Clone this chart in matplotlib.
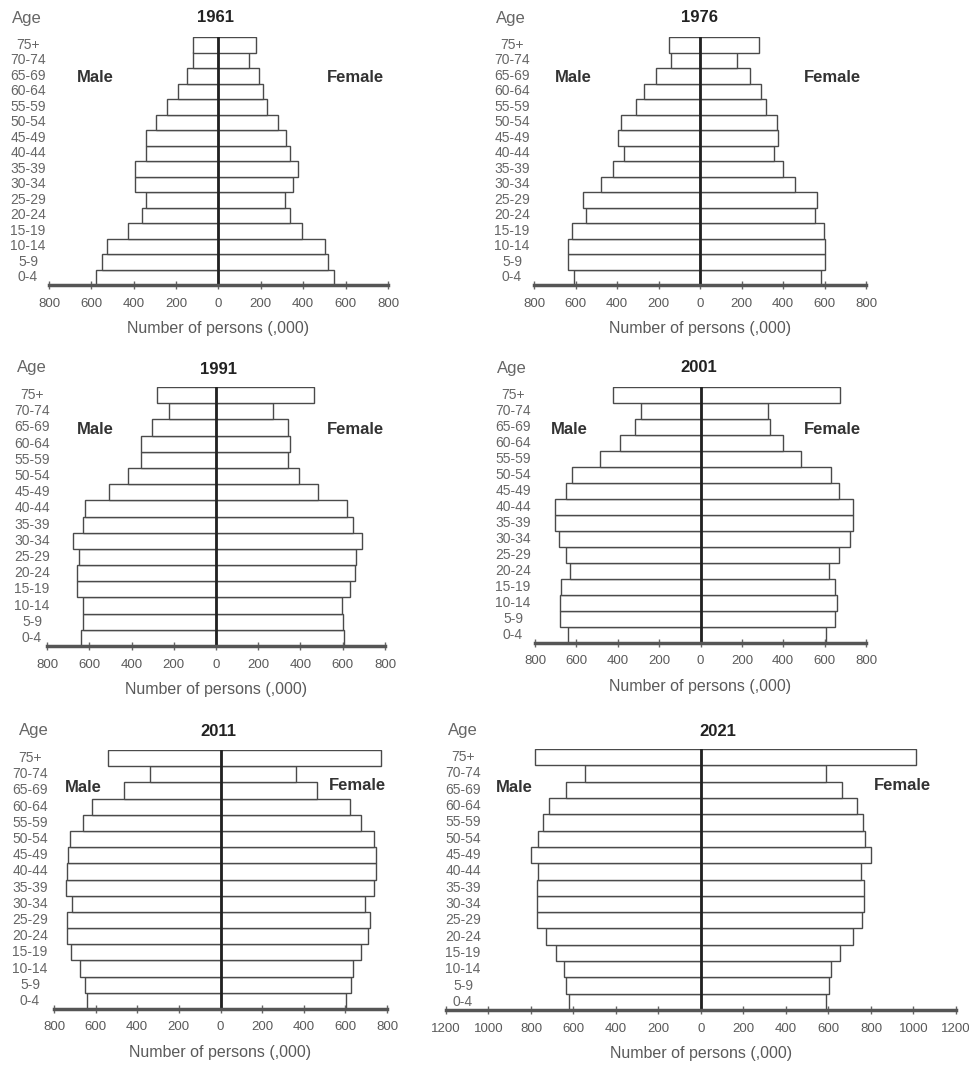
#!/usr/bin/env python3
"""Population pyramids, 1961-2021, six census years on one page."""

import matplotlib.pyplot as plt
import numpy as np

AGE_GROUPS = ["0-4", "5-9", "10-14", "15-19", "20-24", "25-29", "30-34", "35-39",
              "40-44", "45-49", "50-54", "55-59", "60-64", "65-69", "70-74", "75+"]
YEARS = ["1961", "1976", "1991", "2001", "2011", "2021"]

# persons ('000), youngest group first
MALE_1961 = [578, 548, 528, 425, 362, 342, 394, 394, 342, 342, 294, 241, 189, 150, 118, 118]
FEMALE_1961 = [543, 515, 504, 394, 339, 312, 351, 373, 339, 320, 280, 228, 208, 189, 146, 178]
MALE_1976 = [605, 634, 634, 615, 550, 562, 479, 417, 366, 395, 379, 307, 272, 211, 139, 150]
FEMALE_1976 = [583, 604, 604, 596, 553, 564, 460, 399, 359, 377, 369, 316, 296, 241, 180, 284]
MALE_1991 = [639, 628, 628, 659, 659, 650, 678, 628, 620, 505, 415, 355, 355, 304, 221, 281]
FEMALE_1991 = [607, 603, 596, 636, 659, 662, 689, 647, 618, 484, 394, 339, 352, 339, 268, 465]
MALE_2001 = [641, 681, 681, 673, 633, 652, 684, 702, 702, 652, 620, 485, 391, 319, 287, 424]
FEMALE_2001 = [607, 651, 660, 651, 620, 671, 723, 736, 736, 671, 631, 486, 401, 338, 328, 675]
MALE_2011 = [641, 652, 676, 716, 737, 737, 712, 744, 736, 732, 721, 663, 617, 463, 340, 540]
FEMALE_2011 = [601, 625, 635, 673, 710, 718, 694, 737, 747, 747, 737, 673, 622, 466, 362, 769]
MALE_2021 = [622, 633, 643, 683, 731, 774, 774, 774, 766, 798, 766, 745, 713, 633, 547, 782]
FEMALE_2021 = [590, 603, 614, 654, 715, 758, 766, 766, 755, 798, 774, 763, 734, 662, 590, 1010]

MALES = [MALE_1961, MALE_1976, MALE_1991, MALE_2001, MALE_2011, MALE_2021]
FEMALES = [FEMALE_1961, FEMALE_1976, FEMALE_1991, FEMALE_2001, FEMALE_2011, FEMALE_2021]
X_LIMITS = [800, 800, 800, 800, 800, 1200]

W, H = 970, 1067
# axes box in pixels: left, right, top, bottom
BOXES = [(49, 388, 37, 285), (534, 866, 37, 285),
         (47, 385, 387, 646), (535, 866, 387, 643),
         (54, 387, 750, 1009), (446, 956, 749, 1010)]
# pixel centres for the annotations of each panel
TITLE_XY = [(216, 18), (700, 18), (219, 370), (699, 368), (218, 732), (718, 732)]
AGE_XY = [(27, 18), (511, 19), (32, 368), (512, 369), (34, 731), (463, 730)]
AGE_LABEL_X = [28, 512, 32, 513, 30, 463]
MALE_XY = [(95, 77), (573, 77), (95, 429), (569, 429), (83, 787), (514, 788)]
FEMALE_XY = [(355, 77), (832, 77), (355, 429), (832, 429), (357, 785), (902, 786)]

EDGE = "#4a4a4a"
TEXT = "#5a5a5a"
FONT = "Liberation Sans"


def fx(x):
    return x / W


def fy(y):
    return 1 - y / H


def draw_panel(fig, i):
    left, right, top, bottom = BOXES[i]
    ax = fig.add_axes([fx(left), fy(bottom), (right - left) / W, (bottom - top) / H])
    y = np.arange(len(AGE_GROUPS))
    male = np.array(MALES[i])
    female = np.array(FEMALES[i])
    ax.barh(y, -male, height=1.0, color="white", edgecolor=EDGE, linewidth=1.0)
    ax.barh(y, female, height=1.0, color="white", edgecolor=EDGE, linewidth=1.0)
    ax.axvline(0, color="#222222", linewidth=2.0)

    lim = X_LIMITS[i]
    ax.set_xlim(-lim, lim)
    ax.set_ylim(-0.5, len(AGE_GROUPS) - 0.5)
    ticks = np.arange(-lim, lim + 1, 200)
    ax.set_xticks(ticks)
    ax.set_xticklabels([str(abs(t)) for t in ticks], fontsize=9.5, color=TEXT, family=FONT)
    ax.tick_params(axis="x", direction="inout", length=6, width=1, color="#666666", pad=6)
    ax.set_yticks([])
    for side in ["top", "right", "left"]:
        ax.spines[side].set_visible(False)
    ax.spines["bottom"].set_linewidth(2.5)
    ax.spines["bottom"].set_color("#555555")
    ax.set_xlabel("Number of persons (,000)", fontsize=11.5, color=TEXT, family=FONT, labelpad=8)

    label_x = (AGE_LABEL_X[i] - left) / (right - left)
    for yy, lab in zip(y, AGE_GROUPS):
        ax.text(label_x, yy, lab, transform=ax.get_yaxis_transform(), ha="center", va="center",
                fontsize=10, color="#666666", family=FONT, clip_on=False)

    tx, ty = TITLE_XY[i]
    fig.text(fx(tx), fy(ty), YEARS[i], ha="center", va="center", fontsize=12,
             fontweight="bold", color="#222222", family=FONT)
    ax_, ay_ = AGE_XY[i]
    fig.text(fx(ax_), fy(ay_), "Age", ha="center", va="center", fontsize=12,
             color="#666666", family=FONT)
    mx, my = MALE_XY[i]
    fig.text(fx(mx), fy(my), "Male", ha="center", va="center", fontsize=12,
             fontweight="bold", color="#333333", family=FONT)
    ffx, ffy = FEMALE_XY[i]
    fig.text(fx(ffx), fy(ffy), "Female", ha="center", va="center", fontsize=12,
             fontweight="bold", color="#333333", family=FONT)


def main():
    fig = plt.figure(figsize=(W / 100, H / 100), dpi=100)
    fig.patch.set_facecolor("white")
    for i in range(len(YEARS)):
        draw_panel(fig, i)
    fig.savefig("out.png", dpi=100)


if __name__ == "__main__":
    main()
